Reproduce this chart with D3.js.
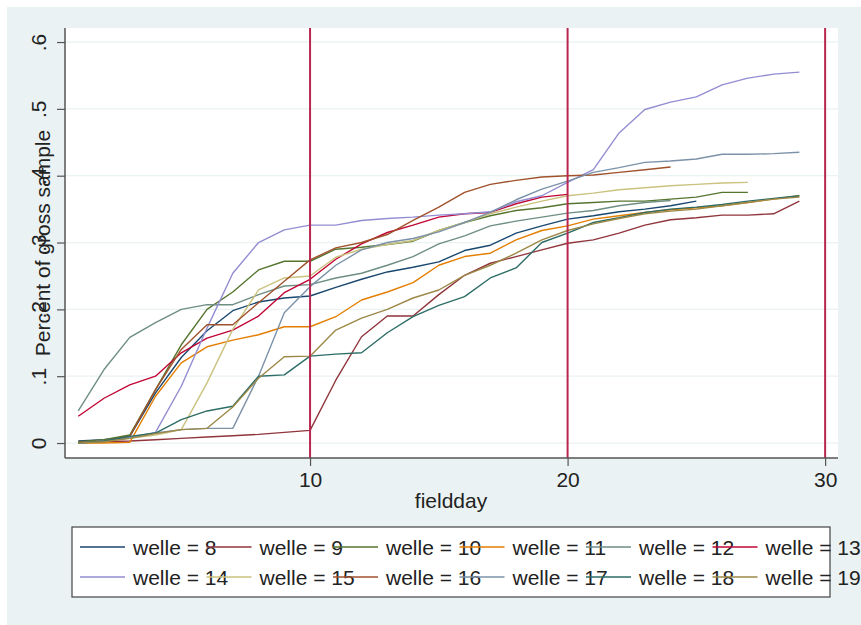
<!DOCTYPE html>
<html>
<head>
<meta charset="utf-8">
<script src="https://cdn.jsdelivr.net/npm/d3@7"></script>
<style>
  body { margin: 0; background: #fff; }
  svg { display: block; font-family: "Liberation Sans", Arial, sans-serif; }
</style>
</head>
<body>
<svg id="chart" width="861" height="625"></svg>
<script>
const width = 861,
  height = 625;

// wave ids and their share of the gross sample by fieldday (day 1 onward)
const welle = [8, 9, 10, 11, 12, 13, 14, 15, 16, 17, 18, 19];
const welle8 = [0.003,0.005,0.010,0.075,0.128,0.168,0.198,0.211,0.217,0.220,0.233,0.245,0.256,0.263,0.271,0.288,0.296,0.314,0.325,0.335,0.340,0.346,0.350,0.355,0.362];
const welle9 = [0.001,0.002,0.003,0.005,0.007,0.009,0.011,0.013,0.016,0.019,0.094,0.159,0.190,0.190,0.222,0.251,0.269,0.279,0.289,0.299,0.304,0.314,0.326,0.334,0.337,0.341,0.341,0.343,0.362];
const welle10 = [0.002,0.005,0.012,0.080,0.147,0.200,0.226,0.259,0.272,0.272,0.290,0.293,0.297,0.302,0.318,0.330,0.340,0.348,0.352,0.358,0.360,0.362,0.362,0.365,0.368,0.375,0.375];
const welle11 = [0.000,0.000,0.001,0.070,0.120,0.144,0.154,0.162,0.174,0.174,0.189,0.214,0.226,0.240,0.266,0.279,0.284,0.304,0.318,0.325,0.335,0.340,0.345,0.349,0.352,0.355,0.360,0.365,0.370];
const welle12 = [0.048,0.110,0.158,0.180,0.200,0.207,0.207,0.222,0.235,0.237,0.247,0.254,0.266,0.279,0.298,0.310,0.325,0.332,0.338,0.344,0.348,0.355,0.360,0.363];
const welle13 = [0.040,0.067,0.087,0.100,0.135,0.157,0.169,0.190,0.225,0.245,0.275,0.298,0.315,0.326,0.338,0.343,0.345,0.358,0.368,0.372];
const welle14 = [0.000,0.003,0.008,0.016,0.085,0.172,0.254,0.300,0.319,0.326,0.326,0.333,0.336,0.338,0.341,0.343,0.346,0.361,0.370,0.390,0.409,0.464,0.499,0.510,0.518,0.536,0.546,0.552,0.555];
const welle15 = [0.000,0.003,0.007,0.012,0.020,0.090,0.170,0.229,0.247,0.250,0.278,0.290,0.297,0.303,0.318,0.330,0.343,0.353,0.362,0.370,0.374,0.379,0.382,0.385,0.387,0.389,0.390];
const welle16 = [0.001,0.003,0.010,0.080,0.140,0.177,0.177,0.210,0.242,0.274,0.292,0.300,0.312,0.333,0.353,0.375,0.387,0.393,0.398,0.400,0.401,0.405,0.409,0.413];
const welle17 = [0.000,0.003,0.008,0.015,0.020,0.022,0.022,0.100,0.195,0.234,0.266,0.289,0.300,0.306,0.316,0.330,0.345,0.364,0.380,0.392,0.405,0.412,0.420,0.422,0.425,0.432,0.432,0.433,0.435];
const welle18 = [0.000,0.003,0.010,0.015,0.035,0.048,0.055,0.100,0.102,0.130,0.133,0.135,0.165,0.189,0.206,0.219,0.247,0.262,0.300,0.314,0.330,0.337,0.345,0.350,0.353,0.357,0.362,0.366,0.370];
const welle19 = [0.000,0.002,0.007,0.014,0.020,0.022,0.054,0.097,0.129,0.130,0.169,0.187,0.200,0.217,0.229,0.251,0.266,0.284,0.304,0.318,0.328,0.336,0.343,0.347,0.350,0.355,0.360,0.365,0.368];

const yTicks = [0, 0.1, 0.2, 0.3, 0.4, 0.5, 0.6];
const xTicks = [10, 20, 30];
const xLines = [10, 20, 30];

// stata s2color order
const colors = ['#1a476f', '#90353b', '#55752f', '#e37e00', '#6e8e84', '#c10534',
  '#938dd2', '#cac27e', '#a0522d', '#7b92a8', '#2d6d66', '#9c8847'];

const series = [welle8, welle9, welle10, welle11, welle12, welle13,
  welle14, welle15, welle16, welle17, welle18, welle19]
  .map((vals, i) => ({
    welle: welle[i],
    color: colors[i],
    points: vals.map((v, j) => ({ day: j + 1, value: v }))
  }));

const svg = d3.select('#chart');

// graph region
svg.append('rect')
  .attr('x', 7).attr('y', 7)
  .attr('width', width - 7).attr('height', height - 7)
  .attr('fill', '#eaf2f3');

const plot = { left: 65, right: 838, top: 28, bottom: 458 };

svg.append('rect')
  .attr('x', plot.left).attr('y', plot.top)
  .attr('width', plot.right - plot.left).attr('height', plot.bottom - plot.top)
  .attr('fill', '#fff');

const x = d3.scaleLinear().domain([0.485, 30.5]).range([plot.left, plot.right]);
const y = d3.scaleLinear().domain([-0.0224, 0.621]).range([plot.bottom, plot.top]);

// grid lines
svg.append('g')
  .selectAll('line')
  .data(yTicks)
  .join('line')
  .attr('x1', plot.left).attr('x2', plot.right)
  .attr('y1', d => y(d)).attr('y2', d => y(d))
  .attr('stroke', '#eaf2f3')
  .attr('stroke-width', 1.2);

// series
const line = d3.line()
  .x(d => x(d.day))
  .y(d => y(d.value));

svg.append('g')
  .selectAll('path')
  .data(series)
  .join('path')
  .attr('d', d => line(d.points))
  .attr('fill', 'none')
  .attr('stroke', d => d.color)
  .attr('stroke-width', 1.4)
  .attr('stroke-linejoin', 'round');

// reference lines
svg.append('g')
  .selectAll('line')
  .data(xLines)
  .join('line')
  .attr('x1', d => x(d)).attr('x2', d => x(d))
  .attr('y1', plot.top).attr('y2', plot.bottom)
  .attr('stroke', '#b8274f')
  .attr('stroke-width', 2);

// axes
const fmt = d => d === 0 ? '0' : d3.format('.1f')(d).replace(/^0/, '');

const yAxis = svg.append('g')
  .attr('transform', `translate(${plot.left},0)`)
  .call(d3.axisLeft(y).tickValues(yTicks).tickFormat(fmt).tickSize(8).tickSizeOuter(0));
yAxis.select('.domain').remove();
yAxis.append('line')
  .attr('y1', plot.top).attr('y2', plot.bottom)
  .attr('stroke', '#555').attr('stroke-width', 1.5);
yAxis.selectAll('.tick line').attr('stroke', '#555').attr('stroke-width', 1.2);
yAxis.selectAll('.tick text')
  .attr('x', null).attr('dy', null)
  .attr('transform', 'translate(-19,0) rotate(-90)')
  .attr('text-anchor', 'middle')
  .attr('fill', '#222')
  .style('font-size', '21px');

const xAxis = svg.append('g')
  .attr('transform', `translate(0,${plot.bottom})`)
  .call(d3.axisBottom(x).tickValues(xTicks).tickSize(8).tickSizeOuter(0));
xAxis.select('.domain').remove();
xAxis.append('line')
  .attr('x1', plot.left).attr('x2', plot.right)
  .attr('stroke', '#555').attr('stroke-width', 1.5);
xAxis.selectAll('.tick line').attr('stroke', '#555').attr('stroke-width', 1.2);
xAxis.selectAll('.tick text')
  .attr('y', 29).attr('dy', null)
  .attr('fill', '#222')
  .style('font-size', '21px');

// axis titles
svg.append('text')
  .attr('transform', `translate(50,${(plot.top + plot.bottom) / 2}) rotate(-90)`)
  .attr('text-anchor', 'middle')
  .attr('fill', '#222')
  .style('font-size', '21px')
  .text('Percent of gross sample');

svg.append('text')
  .attr('x', 451)
  .attr('y', 508)
  .attr('text-anchor', 'middle')
  .attr('fill', '#222')
  .style('font-size', '21px')
  .text('fieldday');

// legend
svg.append('rect')
  .attr('x', 72).attr('y', 527)
  .attr('width', 758).attr('height', 70)
  .attr('fill', '#fff')
  .attr('stroke', '#444')
  .attr('stroke-width', 1.2);

const legend = svg.append('g')
  .selectAll('g')
  .data(series)
  .join('g')
  .attr('transform', (d, i) => `translate(${80 + (i % 6) * 126.5},${i < 6 ? 547 : 577})`);

legend.append('text')
  .attr('x', 53)
  .attr('y', 8)
  .attr('fill', '#222')
  .style('font-size', '21px')
  .text(d => `welle = ${d.welle}`);

legend.append('line')
  .attr('x1', 0).attr('x2', 45)
  .attr('stroke', d => d.color)
  .attr('stroke-width', 1.5);
</script>
</body>
</html>
